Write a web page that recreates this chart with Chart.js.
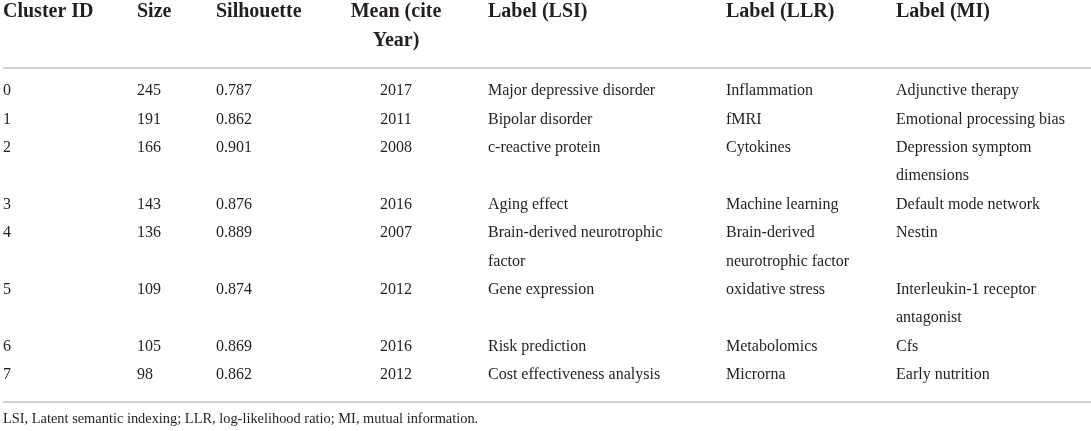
<!DOCTYPE html>
<html lang="en">
<head>
<meta charset="UTF-8">
<title>Cluster summary table</title>
<script src="https://cdn.jsdelivr.net/npm/chart.js"></script>
<style>
    html, body {
        margin: 0;
        padding: 0;
        background: #fff;
    }
    #wrap {
        width: 1091px;
        height: 431px;
        position: relative;
    }
</style>
</head>
<body>
<div id="wrap"><canvas id="tableChart"></canvas></div>
<script>
    // table content
    const headers = ['Cluster ID', 'Size', 'Silhouette', 'Mean (cite Year)', 'Label (LSI)', 'Label (LLR)', 'Label (MI)'];
    const clusterIds = ['0', '1', '2', '3', '4', '5', '6', '7'];
    const sizes = ['245', '191', '166', '143', '136', '109', '105', '98'];
    const silhouettes = ['0.787', '0.862', '0.901', '0.876', '0.889', '0.874', '0.869', '0.862'];
    const meanYears = ['2017', '2011', '2008', '2016', '2007', '2012', '2016', '2012'];
    const labelsLSI = ['Major depressive disorder', 'Bipolar disorder', 'c-reactive protein', 'Aging effect',
        'Brain-derived neurotrophic factor', 'Gene expression', 'Risk prediction', 'Cost effectiveness analysis'];
    const labelsLLR = ['Inflammation', 'fMRI', 'Cytokines', 'Machine learning',
        'Brain-derived neurotrophic factor', 'oxidative stress', 'Metabolomics', 'Microrna'];
    const labelsMI = ['Adjunctive therapy', 'Emotional processing bias', 'Depression symptom dimensions', 'Default mode network',
        'Nestin', 'Interleukin-1 receptor antagonist', 'Cfs', 'Early nutrition'];
    const footnote = 'LSI, Latent semantic indexing; LLR, log-likelihood ratio; MI, mutual information.';

    const columns = [clusterIds, sizes, silhouettes, meanYears, labelsLSI, labelsLLR, labelsMI];

    // layout (x in px, y in text-line units)
    const colX = [3, 137, 216, 396, 488, 726, 896];
    const colAlign = ['left', 'left', 'left', 'center', 'left', 'left', 'left'];
    const colWrap = [120, 70, 160, 100, 200, 150, 185];
    const headFont = 'bold 20px "Liberation Serif"';
    const bodyFont = '16px "Liberation Serif"';
    const noteFont = '14.4px "Liberation Serif"';
    const textColor = '#231f20';
    const ruleColor = '#d0d0d0';
    const LINE_PX = 28.4;
    const TOP_PX = 12;

    const measure = document.createElement('canvas').getContext('2d');
    function wrap(text, font, maxW) {
        measure.font = font;
        const words = text.split(' ');
        const lines = [];
        let cur = '';
        words.forEach(w => {
            const test = cur ? cur + ' ' + w : w;
            if (cur && measure.measureText(test).width > maxW) {
                lines.push(cur);
                cur = w;
            } else {
                cur = test;
            }
        });
        if (cur) lines.push(cur);
        return lines;
    }

    // work out how many lines each header / row takes
    const headLines = headers.map((h, c) => wrap(h, headFont, colWrap[c]));
    const headDepth = Math.max(...headLines.map(l => l.length));
    const cellLines = columns.map((col, c) => col.map(v => wrap(v, bodyFont, colWrap[c])));
    const rowDepth = clusterIds.map((_, r) => Math.max(...cellLines.map(col => col[r].length)));

    const ruleTop = headDepth - 0.03;
    const rowStart = [];
    let y = headDepth + 0.78;
    rowDepth.forEach(d => { rowStart.push(y); y += d; });
    const lastLine = y - 1;
    const ruleBottom = lastLine + 0.95;
    const footY = lastLine + 1.55;
    const rules = [ruleTop, ruleBottom];

    const datasets = columns.map((col, c) => ({
        label: headers[c],
        data: [{x: colX[c], y: 0}].concat(col.map((_, r) => ({x: colX[c], y: rowStart[r]}))),
        lines: [headLines[c]].concat(cellLines[c]),
        fonts: [headFont].concat(col.map(() => bodyFont)),
        align: colAlign[c],
        pointRadius: 0
    }));
    datasets.push({
        label: 'note',
        data: [{x: colX[0], y: footY}],
        lines: [[footnote]],
        fonts: [noteFont],
        align: 'left',
        pointRadius: 0
    });

    const cellText = {
        id: 'cellText',
        afterDatasetsDraw(chart) {
            const ctx = chart.ctx;
            const ys = chart.scales.y;
            ctx.save();
            ctx.fillStyle = textColor;
            ctx.textBaseline = 'middle';
            chart.data.datasets.forEach((ds, i) => {
                const meta = chart.getDatasetMeta(i);
                ctx.textAlign = ds.align;
                meta.data.forEach((pt, j) => {
                    ctx.font = ds.fonts[j];
                    ds.lines[j].forEach((line, k) => {
                        ctx.fillText(line, pt.x, ys.getPixelForValue(ds.data[j].y + k));
                    });
                });
            });
            ctx.restore();
        }
    };

    new Chart(document.getElementById('tableChart'), {
        type: 'scatter',
        data: { datasets: datasets },
        options: {
            responsive: true,
            maintainAspectRatio: false,
            animation: false,
            events: [],
            layout: { padding: { left: 3, right: 0, top: 0, bottom: 0 } },
            plugins: {
                legend: { display: false },
                tooltip: { enabled: false }
            },
            scales: {
                x: {
                    type: 'linear',
                    display: false,
                    min: 3,
                    max: 1091
                },
                y: {
                    type: 'linear',
                    reverse: true,
                    min: -TOP_PX / LINE_PX,
                    max: (431 - TOP_PX) / LINE_PX,
                    afterBuildTicks: s => { s.ticks = rules.map(v => ({ value: v })); },
                    ticks: { display: false },
                    border: { display: false },
                    grid: { color: ruleColor, lineWidth: 2, drawTicks: false }
                }
            }
        },
        plugins: [cellText]
    });
</script>
</body>
</html>
